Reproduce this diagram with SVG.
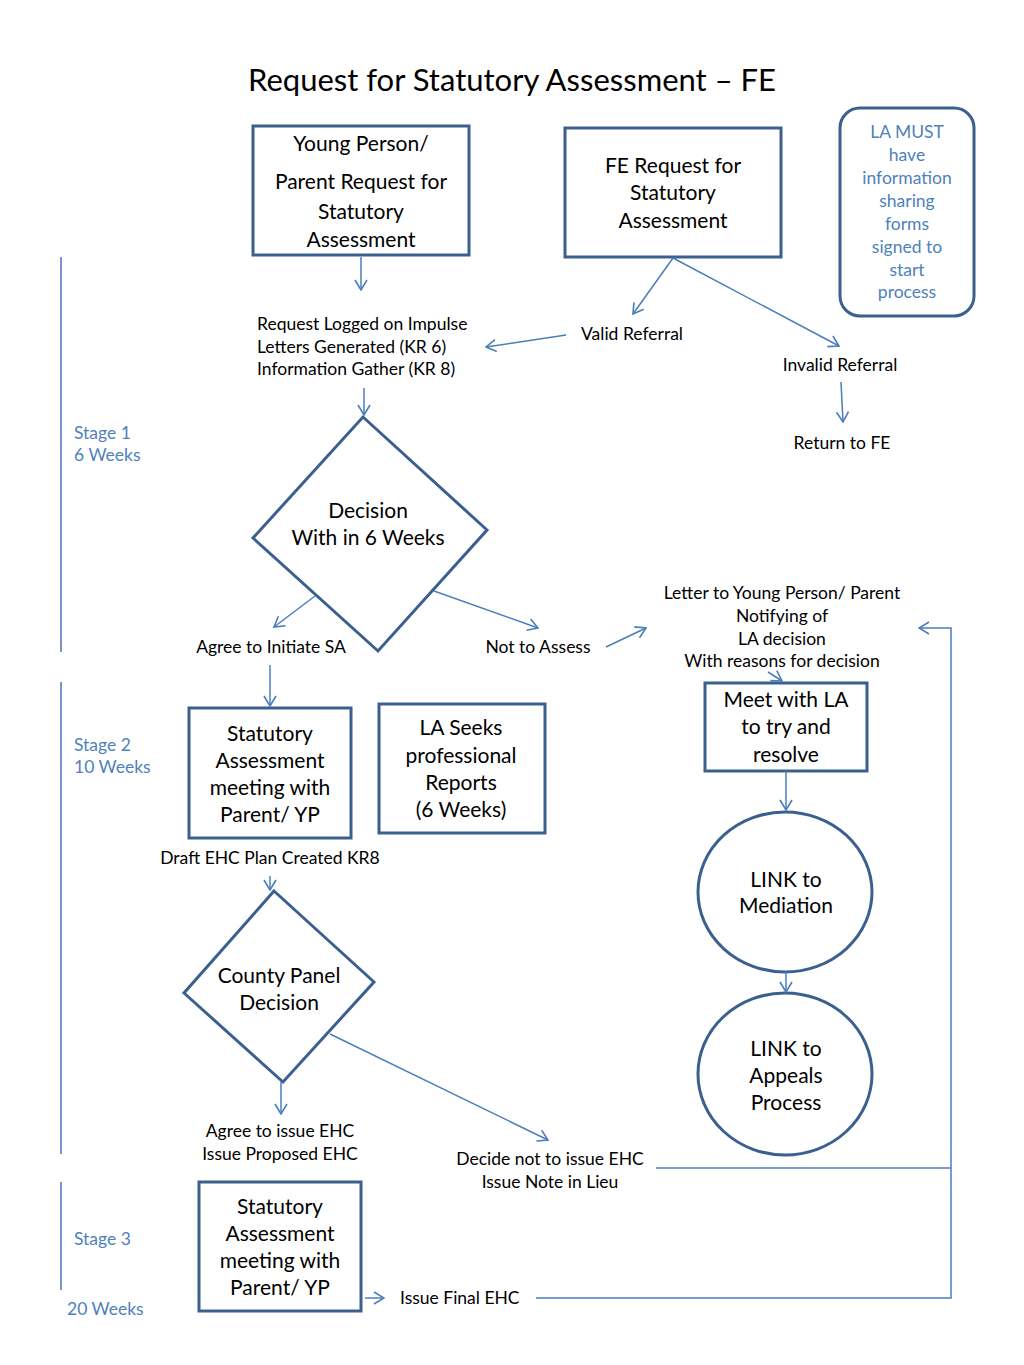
<svg xmlns="http://www.w3.org/2000/svg" width="1024" height="1365" viewBox="0 0 1024 1365">
<style>
.node{fill:#fff;stroke:#3b6090;stroke-width:3}
.t20{font-family:Lato,"Liberation Sans",sans-serif;font-size:21px;fill:#000;text-anchor:middle}
.t16{font-family:Lato,"Liberation Sans",sans-serif;font-size:17.5px;fill:#000}
.c{text-anchor:middle}
.blue{font-family:Lato,"Liberation Sans",sans-serif;font-size:17.5px;fill:#4f81bd}
.con{fill:none;stroke:#4a7ebb;stroke-width:1.5}
.stage{stroke:#4f72b8;stroke-width:1.5}
</style>
<defs>
<marker id="ah" viewBox="0 0 12 14" refX="11" refY="7" markerWidth="12" markerHeight="14" orient="auto" markerUnits="userSpaceOnUse">
<path d="M1,1 L11,7 L1,13" fill="none" stroke="#4a7ebb" stroke-width="1.6"/>
</marker>
</defs>
<rect width="1024" height="1365" fill="#fff"/>
<text x="512" y="91" style="font-family:Lato,'Liberation Sans',sans-serif;font-size:31px;text-anchor:middle">Request for Statutory Assessment – FE</text>

<g id="stages">
<line class="stage" x1="61" y1="257" x2="61" y2="652"/>
<line class="stage" x1="61" y1="682" x2="61" y2="1154"/>
<line class="stage" x1="61" y1="1182" x2="61" y2="1290"/>
<text class="blue" x="74" y="439">Stage 1</text>
<text class="blue" x="74" y="461">6 Weeks</text>
<text class="blue" x="74" y="751">Stage 2</text>
<text class="blue" x="74" y="773">10 Weeks</text>
<text class="blue" x="74" y="1245">Stage 3</text>
<text class="blue" x="67" y="1315">20 Weeks</text>
</g>

<g id="yp-request">
<rect class="node" x="253" y="126" width="216" height="129"/>
<text class="t20" x="361" y="151">Young Person/</text>
<text class="t20" x="361" y="189">Parent  Request for</text>
<text class="t20" x="361" y="219">Statutory</text>
<text class="t20" x="361" y="247">Assessment</text>
</g>

<g id="fe-request">
<rect class="node" x="565" y="128" width="216" height="129"/>
<text class="t20" x="673" y="173">FE Request for</text>
<text class="t20" x="673" y="200">Statutory</text>
<text class="t20" x="673" y="228">Assessment</text>
</g>

<g id="la-must">
<rect class="node" x="840" y="108" width="134" height="208" rx="20"/>
<g class="blue" style="text-anchor:middle">
<text x="907" y="138">LA MUST</text>
<text x="907" y="161">have</text>
<text x="907" y="184">information</text>
<text x="907" y="207">sharing</text>
<text x="907" y="230">forms</text>
<text x="907" y="253">signed to</text>
<text x="907" y="276">start</text>
<text x="907" y="298">process</text>
</g>
</g>

<g id="logged">
<text class="t16" x="257" y="330">Request Logged on Impulse</text>
<text class="t16" x="257" y="353">Letters Generated (KR 6)</text>
<text class="t16" x="257" y="375">Information Gather (KR 8)</text>
</g>

<g id="valid"><text class="t16 c" x="632" y="340">Valid Referral</text></g>
<g id="invalid"><text class="t16 c" x="840" y="371">Invalid Referral</text></g>
<g id="return-fe"><text class="t16 c" x="842" y="449">Return to FE</text></g>

<g id="decision1">
<polygon class="node" points="363,417 487,530 378,651 253,538"/>
<text class="t20" x="368" y="518">Decision</text>
<text class="t20" x="368" y="545">With in 6 Weeks</text>
</g>

<g id="agree-sa"><text class="t16 c" x="271" y="653">Agree to Initiate SA</text></g>
<g id="not-assess"><text class="t16 c" x="538" y="653">Not to Assess</text></g>

<g id="letter">
<text class="t16 c" x="782" y="599">Letter to Young Person/ Parent</text>
<text class="t16 c" x="782" y="622">Notifying of</text>
<text class="t16 c" x="782" y="645">LA decision</text>
<text class="t16 c" x="782" y="667">With reasons for decision</text>
</g>

<g id="meet-la">
<rect class="node" x="705" y="683" width="162" height="88"/>
<text class="t20" x="786" y="707">Meet with LA</text>
<text class="t20" x="786" y="734">to try and</text>
<text class="t20" x="786" y="762">resolve</text>
</g>

<g id="mediation">
<ellipse class="node" cx="785" cy="892" rx="87" ry="80"/>
<text class="t20" x="786" y="887">LINK to</text>
<text class="t20" x="786" y="913">Mediation</text>
</g>

<g id="appeals">
<ellipse class="node" cx="785" cy="1074" rx="87" ry="81"/>
<text class="t20" x="786" y="1056">LINK to</text>
<text class="t20" x="786" y="1083">Appeals</text>
<text class="t20" x="786" y="1110">Process</text>
</g>

<g id="sa-meeting">
<rect class="node" x="189" y="708" width="162" height="130"/>
<text class="t20" x="270" y="741">Statutory</text>
<text class="t20" x="270" y="768">Assessment</text>
<text class="t20" x="270" y="795">meeting with</text>
<text class="t20" x="270" y="822">Parent/ YP</text>
</g>

<g id="la-seeks">
<rect class="node" x="379" y="704" width="166" height="129"/>
<text class="t20" x="461" y="735">LA Seeks</text>
<text class="t20" x="461" y="763">professional</text>
<text class="t20" x="461" y="790">Reports</text>
<text class="t20" x="461" y="817">(6 Weeks)</text>
</g>

<g id="draft"><text class="t16 c" x="270" y="864">Draft EHC Plan Created KR8</text></g>

<g id="panel">
<polygon class="node" points="274,891 374,982 283,1082 184,993"/>
<text class="t20" x="279" y="983">County Panel</text>
<text class="t20" x="279" y="1010">Decision</text>
</g>

<g id="agree-ehc">
<text class="t16 c" x="280" y="1137">Agree to issue EHC</text>
<text class="t16 c" x="280" y="1160">Issue Proposed EHC</text>
</g>

<g id="not-ehc">
<text class="t16 c" x="550" y="1165">Decide not to issue EHC</text>
<text class="t16 c" x="550" y="1188">Issue Note in Lieu</text>
</g>

<g id="sa-meeting-3">
<rect class="node" x="199" y="1182" width="162" height="129"/>
<text class="t20" x="280" y="1214">Statutory</text>
<text class="t20" x="280" y="1241">Assessment</text>
<text class="t20" x="280" y="1268">meeting with</text>
<text class="t20" x="280" y="1295">Parent/ YP</text>
</g>

<g id="final-ehc"><text class="t16" x="400" y="1304">Issue Final EHC</text></g>

<g id="connectors">
<line class="con" x1="361" y1="257" x2="361" y2="290" marker-end="url(#ah)"/>
<line class="con" x1="673" y1="258" x2="633" y2="314" marker-end="url(#ah)"/>
<line class="con" x1="673" y1="258" x2="839" y2="346" marker-end="url(#ah)"/>
<line class="con" x1="566" y1="335" x2="486" y2="347" marker-end="url(#ah)"/>
<line class="con" x1="841" y1="382" x2="843" y2="422" marker-end="url(#ah)"/>
<line class="con" x1="364" y1="388" x2="364" y2="415" marker-end="url(#ah)"/>
<line class="con" x1="315" y1="596" x2="274" y2="627" marker-end="url(#ah)"/>
<line class="con" x1="434" y1="591" x2="538" y2="628" marker-end="url(#ah)"/>
<line class="con" x1="606" y1="647" x2="646" y2="628" marker-end="url(#ah)"/>
<line class="con" x1="768" y1="672" x2="782" y2="681" marker-end="url(#ah)"/>
<line class="con" x1="786" y1="771" x2="786" y2="810" marker-end="url(#ah)"/>
<line class="con" x1="786" y1="972" x2="786" y2="992" marker-end="url(#ah)"/>
<line class="con" x1="270" y1="665" x2="270" y2="706" marker-end="url(#ah)"/>
<line class="con" x1="270" y1="876" x2="270" y2="890" marker-end="url(#ah)"/>
<line class="con" x1="281" y1="1082" x2="281" y2="1114" marker-end="url(#ah)"/>
<line class="con" x1="330" y1="1034" x2="548" y2="1140" marker-end="url(#ah)"/>
<line class="con" x1="365" y1="1298" x2="384" y2="1298" marker-end="url(#ah)"/>
<polyline class="con" points="656,1168 951,1168"/>
<polyline class="con" points="536,1298 951,1298 951,628 919,628" marker-end="url(#ah)"/>
</g>
</svg>
